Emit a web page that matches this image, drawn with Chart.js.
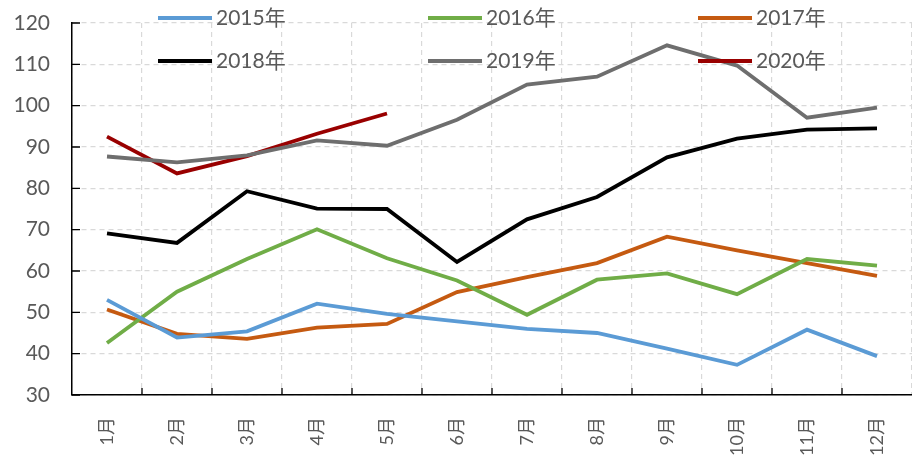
<!DOCTYPE html>
<html>
<head>
<meta charset="utf-8">
<script src="https://cdn.jsdelivr.net/npm/chart.js@4.4.1/dist/chart.umd.min.js"></script>
<style>
  html, body { margin: 0; padding: 0; background: #fff; }
  #wrap { width: 912px; height: 462px; }
</style>
</head>
<body>
<div id="wrap"><canvas id="c" width="912" height="462"></canvas></div>
<script>
const months = ['1月', '2月', '3月', '4月', '5月', '6月', '7月', '8月', '9月', '10月', '11月', '12月'];
const years = ['2015年', '2016年', '2017年', '2018年', '2019年', '2020年'];
const v2015 = [53.0, 43.9, 45.4, 52.1, 49.6, 47.8, 46.0, 45.0, 41.2, 37.3, 45.8, 39.4];
const v2016 = [42.6, 55.0, 62.9, 70.1, 63.1, 57.7, 49.4, 57.9, 59.4, 54.4, 62.9, 61.3];
const v2017 = [50.7, 44.8, 43.6, 46.3, 47.2, 54.9, 58.5, 61.9, 68.3, 65.0, 61.9, 58.8];
const v2018 = [69.1, 66.8, 79.3, 75.1, 75.0, 62.2, 72.5, 77.9, 87.5, 92.0, 94.2, 94.5];
const v2019 = [87.7, 86.3, 88.0, 91.6, 90.3, 96.6, 105.1, 107.0, 114.6, 109.7, 97.1, 99.5];
const v2020 = [92.5, 83.6, 87.8, 93.2, 98.1];
const colors = ['#5b9bd5', '#70ad47', '#c55a11', '#000000', '#6e6e6e', '#990000'];

const font = "Lato, 'Noto Sans CJK SC', sans-serif";
const textColor = '#595959';

const series = [v2015, v2016, v2017, v2018, v2019, v2020];

// legend drawn over the plot, 3 columns x 2 rows like the Excel original
const gridLegend = {
  id: 'gridLegend',
  afterDatasetsDraw(chart) {
    const ctx = chart.ctx;
    ctx.save();
    ctx.font = '21px ' + font;
    ctx.textBaseline = 'middle';
    chart.data.datasets.forEach((ds, i) => {
      const col = i % 3, row = Math.floor(i / 3);
      const x = 158 + col * 270;
      const y = 18 + row * 43;
      ctx.strokeStyle = ds.borderColor;
      ctx.lineWidth = 4;
      ctx.beginPath();
      ctx.moveTo(x, y);
      ctx.lineTo(x + 54, y);
      ctx.stroke();
      ctx.fillStyle = textColor;
      ctx.fillText(ds.label, x + 58, y);
    });
    ctx.restore();
  }
};

// short inward tick marks on both axes
const innerTicks = {
  id: 'innerTicks',
  afterDraw(chart) {
    const { ctx, chartArea, scales } = chart;
    ctx.save();
    ctx.strokeStyle = '#000';
    ctx.lineWidth = 1.3;
    ctx.beginPath();
    scales.y.ticks.forEach((t, i) => {
      const y = scales.y.getPixelForTick(i);
      ctx.moveTo(chartArea.left, y);
      ctx.lineTo(chartArea.left + 8, y);
    });
    for (let i = 1; i < months.length; i++) {
      const x = (scales.x.getPixelForTick(i - 1) + scales.x.getPixelForTick(i)) / 2;
      ctx.moveTo(x, chartArea.bottom);
      ctx.lineTo(x, chartArea.bottom - 7);
    }
    ctx.stroke();
    ctx.restore();
  }
};

new Chart(document.getElementById('c'), {
  type: 'line',
  data: {
    labels: months,
    datasets: years.map((y, i) => ({
      label: y,
      data: series[i],
      borderColor: colors[i],
      backgroundColor: colors[i],
      borderWidth: 3.8,
      pointRadius: 0,
      tension: 0,
      fill: false
    }))
  },
  options: {
    responsive: false,
    animation: false,
    layout: { padding: { top: 23, right: 0, left: 0, bottom: 0 } },
    plugins: {
      legend: { display: false },
      tooltip: { enabled: false }
    },
    scales: {
      x: {
        offset: true,
        grid: { offset: true, color: '#d9d9d9', lineWidth: 1.2, drawTicks: false },
        border: { color: '#000', width: 1.5, dash: [5, 4] },
        ticks: {
          color: textColor,
          font: { family: font, size: 18 },
          maxRotation: 90,
          minRotation: 90,
          padding: 22
        },
        afterFit(scale) { scale.height = 67; scale.paddingLeft = 0; scale.paddingRight = 0; }
      },
      y: {
        min: 30,
        max: 120,
        grid: { color: '#d9d9d9', lineWidth: 1.2, drawTicks: false },
        border: { color: '#000', width: 1.5, dash: [5, 4] },
        ticks: {
          stepSize: 10,
          color: textColor,
          font: { family: font, size: 21 },
          padding: 22
        },
        afterFit(scale) { scale.width = 72; scale.paddingTop = 0; scale.paddingBottom = 0; }
      }
    }
  },
  plugins: [gridLegend, innerTicks]
});
</script>
</body>
</html>
